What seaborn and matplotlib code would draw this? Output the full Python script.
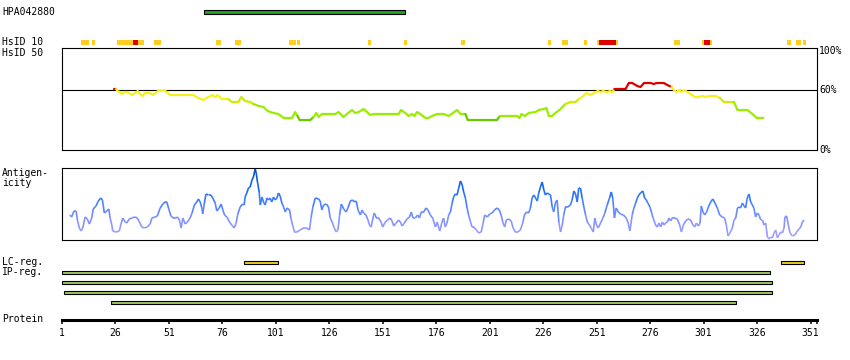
import numpy as np
import matplotlib
matplotlib.use("Agg")
import matplotlib.pyplot as plt
import seaborn as sns
from matplotlib.collections import LineCollection
from matplotlib.colors import LinearSegmentedColormap, Normalize

# protein / antibody
protein_len = 354
tick_residues = [1, 26, 51, 76, 101, 126, 151, 176, 201, 226, 251, 276, 301, 326, 351]
antibody_name = "HPA042880"
antibody_start, antibody_end = 68, 161

# HsID 10 hits (residue ranges), level "hi" = red, "lo" = yellow
hsid10_start = [10, 15, 26.5, 34, 36.5, 44, 73, 82, 107, 111, 144, 161, 187.5, 228,
                235, 245, 251, 252, 260, 287, 300, 301, 304, 340, 344, 347.5]
hsid10_end = [13.5, 16.5, 34, 36.5, 39.5, 47.5, 75.5, 84.5, 110.5, 112.5, 145.5, 162.5, 189.5, 229.5,
              237.5, 246.5, 252, 260, 261, 290, 301, 304, 305, 342, 346.5, 349]
hsid10_level = ["lo", "lo", "lo", "hi", "lo", "lo", "lo", "lo", "lo", "lo", "lo", "lo", "lo", "lo",
                "lo", "lo", "lo", "hi", "lo", "lo", "lo", "hi", "lo", "lo", "lo", "lo"]

# HsID 50 identity (%)
hsid50_pos = [25.5, 26.3, 26.9, 28.1, 28.9, 30.0, 31.3, 32.4, 33.6, 35.2, 36.4, 37.5, 38.6, 39.8,
              42.2, 43.7, 45.3, 46.5, 47.7, 48.7, 50.0, 51.5, 62.4, 64.8, 67.1, 69.5, 71.3, 72.6,
              73.7, 75.7, 78.8, 80.4, 83.5, 84.8, 86.6, 89.0, 90.5, 92.9, 95.2, 97.1, 99.9, 102.2,
              104.6, 108.5, 110.0, 111.1, 112.1, 117.1, 118.6, 119.9, 121.0, 122.5, 128.8, 130.3,
              132.6, 134.2, 136.6, 138.1, 139.7, 142.0, 143.6, 145.1, 146.7, 158.4, 159.5, 161.5,
              163.1, 164.7, 165.7, 167.0, 168.5, 170.9, 172.4, 174.0, 176.4, 179.5, 181.8, 185.7,
              187.3, 189.6, 190.7, 204.4, 205.7, 213.8, 214.9, 215.8, 217.4, 219.2, 222.4, 223.9,
              226.3, 227.5, 228.6, 230.2, 231.7, 234.1, 236.4, 238.8, 241.1, 242.6, 244.2, 246.2,
              248.1, 249.7, 251.5, 252.8, 254.0, 255.9, 257.1, 258.3, 259.3, 264.5, 266.0, 267.6,
              270.0, 271.5, 273.1, 276.2, 277.7, 279.0, 282.4, 284.0, 286.0, 287.1, 288.4, 289.4,
              290.6, 291.8, 293.4, 294.9, 296.8, 298.8, 300.4, 301.9, 303.5, 306.6, 308.6, 310.5,
              315.2, 316.8, 321.5, 323.8, 325.8, 328.9]
hsid50_pct = [61, 61, 59, 58, 56, 58, 58, 57, 55, 57, 59, 56, 54, 57,
              57, 55, 58, 60, 59, 60, 58, 55, 55, 52, 50, 53, 55, 53,
              55, 51, 51, 48, 48, 53, 49, 48, 46, 44, 43, 39, 37, 36,
              32, 32, 38, 34, 30, 30, 33, 37, 33, 36, 36, 38,
              33, 36, 40, 37, 38, 41, 38, 35, 36, 36, 40, 37,
              34, 36, 34, 38, 36, 32, 32, 34, 36, 36, 34, 40,
              36, 36, 30, 30, 34, 34, 32, 36, 34, 37, 38, 40,
              41, 42, 34, 34, 37, 41, 46, 48, 48, 51, 53, 57,
              55, 57, 59, 58, 59, 58, 59, 58, 61, 61, 67, 67,
              64, 63, 67, 67, 66, 67, 67, 65, 63, 60, 58, 60,
              58, 60, 58, 56, 53, 53, 54, 53, 54, 54, 52, 48,
              48, 40, 40, 36, 32, 32]

# antigenicity score (arbitrary units)
antigen_pos = [4.7, 5.5, 6.6, 7.6, 8.2, 9.1, 9.9, 10.7, 11.8, 12.8,
               13.8, 14.9, 15.6, 16.9, 18.0, 19.1, 19.9, 20.8, 21.9, 22.9,
               23.5, 24.3, 24.7, 26.3, 27.8, 28.6, 29.4, 30.5, 31.3, 32.4,
               33.6, 35.2, 36.2, 37.2, 38.3, 39.4, 40.9, 42.2, 43.0, 44.5,
               45.6, 46.9, 48.1, 49.2, 50.0, 50.8, 51.9, 53.1, 54.2, 55.0,
               55.9, 56.7, 57.5, 58.6, 59.6, 60.9, 61.8, 62.9, 64.0, 64.8,
               65.6, 66.4, 66.8, 67.5, 68.3, 69.5, 70.6, 71.5, 72.6, 73.4,
               74.5, 75.4, 76.2, 77.0, 78.1, 79.3, 80.4, 81.5, 82.4, 83.2,
               84.3, 85.4, 86.2, 86.6, 87.4, 88.2, 89.0, 89.8, 90.5, 91.3,
               91.8, 92.4, 93.2, 93.7, 94.5, 95.2, 96.0, 96.8, 97.6, 98.3,
               99.1, 99.9, 100.7, 101.5, 102.2, 103.0, 103.8, 104.6, 105.4, 106.2,
               107.4, 108.0, 108.8, 109.7, 110.8, 112.4, 113.9, 115.5, 116.7, 117.5,
               118.3, 119.4, 121.0, 121.7, 122.5, 123.3, 124.6, 125.6, 126.4, 127.5,
               128.3, 129.2, 130.0, 130.8, 131.6, 132.7, 133.8, 134.7, 135.8, 136.9,
               137.8, 138.6, 139.4, 140.5, 141.3, 142.0, 143.1, 143.9, 144.8, 145.5,
               146.2, 147.0, 148.0, 149.0, 150.2, 150.9, 152.2, 153.2, 154.5, 155.3,
               156.1, 157.2, 158.4, 159.2, 160.0, 161.1, 162.3, 163.5, 164.3, 165.1,
               166.2, 167.3, 168.1, 169.0, 170.1, 171.2, 172.1, 173.2, 174.3, 175.6,
               176.4, 177.6, 178.7, 179.4, 180.2, 181.0, 181.8, 182.6, 183.4, 184.1,
               184.9, 185.7, 186.5, 187.3, 188.1, 188.8, 189.6, 190.4, 191.1, 191.9,
               192.7, 193.5, 194.8, 195.8, 197.0, 197.9, 198.6, 199.8, 201.0, 202.1,
               203.2, 204.4, 205.5, 206.3, 207.2, 208.0, 208.7, 209.9, 211.0, 211.9,
               213.0, 214.1, 215.3, 216.4, 217.2, 218.2, 219.2, 220.0, 220.8, 221.6,
               222.4, 223.2, 223.9, 224.7, 225.5, 226.3, 227.0, 227.8, 228.6, 229.4,
               230.2, 230.9, 231.7, 232.5, 233.3, 234.1, 234.9, 235.6, 236.4, 237.5,
               238.7, 239.5, 240.3, 241.1, 241.9, 242.6, 243.4, 244.2, 245.0, 245.8,
               246.6, 247.6, 248.4, 249.4, 250.1, 250.9, 251.7, 252.8, 253.9, 254.8,
               255.9, 257.0, 257.8, 258.5, 259.3, 260.1, 261.1, 262.1, 263.4, 264.5,
               265.6, 266.5, 267.6, 268.4, 269.2, 270.0, 270.7, 271.5, 272.6, 273.4,
               274.2, 274.9, 275.9, 276.7, 277.4, 278.5, 279.3, 280.1, 280.9, 281.7,
               282.4, 283.2, 284.0, 284.8, 285.5, 286.3, 287.4, 288.7, 289.8, 290.6,
               291.5, 292.6, 293.6, 294.9, 296.0, 296.8, 297.6, 298.5, 299.3, 299.9,
               300.7, 301.5, 302.4, 303.2, 304.3, 305.3, 306.3, 307.4, 308.5, 309.7,
               310.8, 311.6, 312.4, 313.3, 314.4, 315.2, 316.0, 316.8, 317.5, 318.3,
               319.1, 319.9, 320.6, 321.4, 322.2, 323.0, 323.8, 324.5, 325.3, 326.1,
               326.9, 327.7, 328.5, 329.2, 330.0, 330.8, 331.6, 332.3, 333.1, 333.9,
               334.7, 335.5, 336.2, 337.0, 337.8, 338.6, 339.0, 339.8, 340.6, 341.4,
               342.5, 343.6, 344.5, 345.6, 346.4, 347.2, 347.9]
antigen_val = [25, 23, 29, 29, 20, 12, 9, 12, 23, 21,
               16, 22, 31, 34, 39, 42, 40, 27, 29, 31,
               22, 15, 9, 8, 9, 16, 22, 18, 17, 21,
               22, 23, 22, 18, 13, 12, 13, 16, 22, 23,
               24, 32, 36, 38, 38, 32, 24, 22, 22, 23,
               20, 12, 22, 16, 18, 22, 27, 35, 38, 41,
               38, 32, 26, 36, 46, 45, 45, 42, 37, 29,
               32, 36, 30, 25, 23, 18, 15, 12, 17, 26,
               33, 36, 35, 43, 47, 52, 53, 60, 63, 71,
               67, 58, 48, 35, 43, 38, 35, 42, 40, 42,
               38, 43, 40, 42, 47, 44, 37, 33, 28, 32,
               30, 22, 15, 8, 8, 10, 12, 12, 10, 23,
               33, 42, 41, 39, 30, 35, 36, 33, 22, 17,
               12, 8, 10, 25, 36, 31, 28, 32, 39, 40,
               38, 39, 30, 25, 30, 27, 25, 21, 15, 13,
               20, 27, 22, 22, 18, 13, 18, 20, 22, 19,
               14, 17, 20, 18, 14, 17, 21, 23, 28, 22,
               22, 25, 22, 28, 28, 32, 30, 25, 22, 13,
               18, 9, 18, 22, 13, 17, 25, 28, 37, 43,
               46, 45, 52, 59, 55, 48, 42, 32, 25, 19,
               13, 13, 10, 7, 8, 17, 25, 23, 26, 27,
               30, 32, 30, 25, 17, 13, 20, 21, 19, 12,
               8, 8, 10, 17, 25, 28, 27, 32, 42, 45,
               42, 39, 47, 53, 58, 50, 45, 47, 46, 45,
               33, 28, 37, 40, 18, 8, 15, 25, 33, 33,
               35, 40, 49, 46, 38, 52, 52, 42, 33, 25,
               18, 15, 12, 8, 22, 15, 12, 17, 22, 27,
               35, 42, 48, 42, 22, 32, 28, 26, 25, 23,
               18, 9, 25, 32, 37, 42, 45, 47, 49, 42,
               40, 37, 33, 27, 22, 15, 13, 17, 13, 18,
               15, 17, 18, 22, 19, 22, 22, 21, 15, 8,
               15, 19, 21, 20, 15, 13, 17, 14, 17, 34,
               28, 25, 28, 33, 38, 41, 37, 32, 25, 23,
               22, 15, 4, 7, 12, 20, 22, 32, 33, 32,
               37, 34, 32, 42, 46, 38, 35, 32, 23, 27,
               25, 20, 20, 15, 17, 3, 1, 3, 2, 7,
               10, 2, 5, 8, 7, 12, 23, 24, 15, 7,
               4, 5, 8, 11, 13, 18, 20]

# LC / IP regions
lc_start = [86, 337]
lc_end = [102, 348]
ip_start = [1, 1, 2, 24]
ip_end = [332, 333, 333, 316]

sns.set_theme(style="white", rc={"axes.edgecolor": "black", "text.color": "black",
                                 "xtick.color": "black", "axes.linewidth": 0.8})
plt.rcParams["font.family"] = ["DejaVu Sans Mono"]
plt.rcParams["font.size"] = 7

W, H = 850, 360
fig = plt.figure(figsize=(W / 100, H / 100), dpi=100)


def px_box(x0, y0, x1, y1):
    return [x0 / W, 1 - y1 / H, (x1 - x0) / W, (y1 - y0) / H]


X0, X1 = 62, 817
xlim = (1, protein_len)

# track layer (pixel rows on y)
trk = fig.add_axes(px_box(X0, 0, X1, H))
trk.set_xlim(xlim)
trk.set_ylim(H, 0)
trk.axis("off")

trk.barh(12, antibody_end - antibody_start + 1, left=antibody_start - 0.5, height=4.5,
         color="#22a022", edgecolor="black", linewidth=0.8)

h10_cols = {"hi": "#dd0000", "lo": "#ffcc22"}
trk.barh([42.5] * len(hsid10_start), np.subtract(hsid10_end, hsid10_start), left=hsid10_start,
         height=5, color=[h10_cols[l] for l in hsid10_level], linewidth=0)

trk.barh([262.5] * len(lc_start), np.subtract(lc_end, lc_start), left=lc_start, height=3.6,
         color="#f0d020", edgecolor="black", linewidth=0.8)
trk.barh([272.5, 282.5, 292.5, 302.5], np.subtract(ip_end, ip_start), left=ip_start, height=3.6,
         color="#a0c860", edgecolor="black", linewidth=0.8)

# HsID 50 panel
ax50 = fig.add_axes(px_box(X0, 48, X1, 150))


def hsid_color(v):
    if v > 60.5:
        return "#dd0000"
    if v >= 50:
        return "#f5f020"
    if v >= 45:
        return "#ccee00"
    if v > 31:
        return "#99ee00"
    return "#66cc00"


seg_cols = [hsid_color(min(a, b)) for a, b in zip(hsid50_pct[:-1], hsid50_pct[1:])]
start = 0
for i in range(1, len(seg_cols) + 1):
    if i == len(seg_cols) or seg_cols[i] != seg_cols[start]:
        sns.lineplot(x=hsid50_pos[start:i + 1], y=hsid50_pct[start:i + 1], color=seg_cols[start],
                     lw=1.6, sort=False, estimator=None, ax=ax50)
        start = i

ax50.axhline(60, color="black", lw=0.8, zorder=0)
ax50.set_xlim(xlim)
ax50.set_ylim(0, 102)
ax50.set_xticks([])
ax50.set_yticks([])
for s in ax50.spines.values():
    s.set_color("black")
    s.set_linewidth(0.8)
for val, lab in [(99, "100%"), (60, "60%"), (0, "0%")]:
    ax50.text(1.003, val, lab, transform=ax50.get_yaxis_transform(), ha="left", va="center",
              fontsize=7)

# antigenicity panel
axag = fig.add_axes(px_box(X0, 168, X1, 240))
ag_cmap = LinearSegmentedColormap.from_list(
    "ag", [(0, "#aca4ff"), (0.28, "#8492ff"), (0.5, "#4a82ff"), (0.7, "#1a6cf5"), (1, "#0050cc")])
pts = np.column_stack([antigen_pos, antigen_val]).astype(float)
segs = np.stack([pts[:-1], pts[1:]], axis=1)
mid = (pts[:-1, 1] + pts[1:, 1]) / 2
lc = LineCollection(segs, colors=ag_cmap(Normalize(0, 72)(mid)), linewidths=1.2)
axag.add_collection(lc)
axag.set_xlim(xlim)
axag.set_ylim(0, 72)
axag.set_xticks([])
axag.set_yticks([])
for s in axag.spines.values():
    s.set_color("black")
    s.set_linewidth(0.8)

# protein axis
pax = fig.add_axes(px_box(X0, 316, X1, 320))
pax.patch.set_visible(False)
pax.set_xlim(xlim)
pax.set_yticks([])
for s in ["top", "left", "right"]:
    pax.spines[s].set_visible(False)
pax.spines["bottom"].set_linewidth(2.2)
pax.set_xticks(tick_residues)
pax.set_xticks([protein_len], minor=True)
pax.tick_params(axis="x", which="both", direction="out", length=3, width=1.1, pad=2.5,
                labelsize=7, bottom=True, colors="black")

# left labels
for y, lab in [(12, antibody_name), (42, "HsID 10"), (52.5, "HsID 50"), (173, "Antigen-"),
               (182.5, "icity"), (262, "LC-reg."), (272, "IP-reg."), (319.5, "Protein")]:
    fig.text(2 / W, 1 - y / H, lab, ha="left", va="center", fontsize=7)

fig.savefig("out.png", dpi=100)
